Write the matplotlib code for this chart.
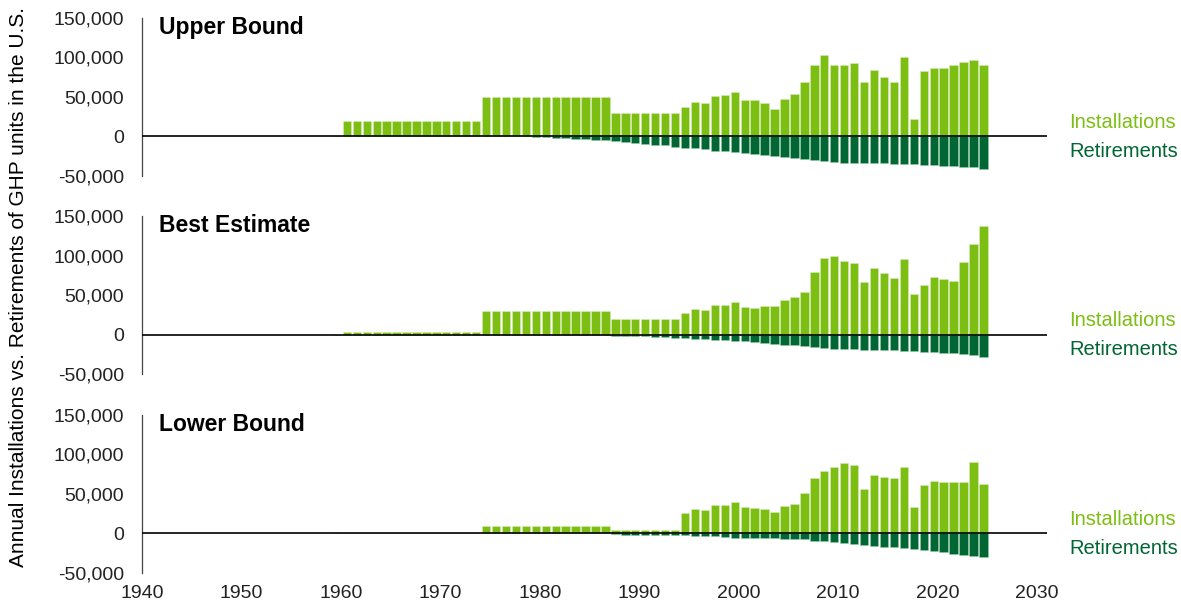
import numpy as np
import matplotlib
matplotlib.use('Agg')
import matplotlib.pyplot as plt
from matplotlib.ticker import FuncFormatter

plt.rcParams['font.family'] = ['Liberation Sans', 'DejaVu Sans']

# years shown on the chart (one bar per year)
years = list(range(1959, 2025))

panel_titles = ['Upper Bound', 'Best Estimate', 'Lower Bound']

# annual installations, 1959-2024
upper_inst = [400,
              20000, 20000, 20000, 20000, 20000, 20000, 20000, 20000, 20000, 20000,
              20000, 20000, 20000, 20000,
              50000, 50000, 50000, 50000, 50000, 50000, 50000, 50000, 50000, 50000,
              50000, 50000, 50000,
              30000, 30000, 30000, 30000, 30000, 30000, 30000,
              37000, 44000, 43000, 51000, 52500, 56000, 46000, 46000, 43000, 35000,
              47000, 54000, 69000, 91000, 103000, 91000, 91000, 93000, 69000, 84000,
              75000, 69000, 100000, 22500, 83000, 87000, 86500, 90000, 94500, 96500,
              90500]
best_inst = [0,
             3000, 3000, 3000, 3000, 3000, 3000, 3000, 3000, 3000, 3000,
             3000, 3000, 3000, 3000,
             30000, 30000, 30000, 30000, 30000, 30000, 30000, 30000, 30000, 30000,
             30000, 30000, 30000,
             20000, 20000, 20000, 20000, 20000, 20000, 20000,
             27500, 32000, 30500, 37300, 37700, 41500, 35200, 33900, 36400, 36000,
             43600, 47500, 54200, 78800, 97500, 99000, 93600, 91100, 66100, 84700,
             78400, 71600, 96200, 51700, 63100, 72900, 70800, 68200, 91500, 114400,
             137300]
lower_inst = [400,
              0, 0, 0, 0, 0, 0, 0, 0, 0, 0,
              0, 0, 0, 0,
              9000, 9000, 9000, 9000, 9000, 9000, 9000, 9000, 9000, 9000,
              9000, 9000, 9000,
              4000, 4000, 4000, 4000, 4000, 4000, 4000,
              26300, 31400, 30100, 36000, 36000, 39400, 33500, 32200, 31400, 27500,
              34300, 37700, 51300, 70300, 79700, 84300, 89400, 87300, 56400, 73700,
              71600, 70300, 84300, 33500, 61400, 66900, 65300, 65300, 65700, 90700,
              63100]

# annual retirements (plotted as negative), 1959-2024
upper_ret = [0,
             0, 0, 0, 0, 0, 0, 0, 0, 0, 0,
             0, 0, 0, 0, 0, 0, 0, 0, 0, 500,
             1200, 1700, 2500, 3000, 3800, 4200, 5000, 6000, 6800, 8000,
             9300, 10200, 11400, 12700, 14000, 15200, 16100, 17800, 18600, 19900,
             21200, 22500, 23700, 25000, 26300, 27100, 28400, 29700, 30900, 32600,
             33000, 33000, 33500, 33900, 33900, 34300, 34700, 35200, 35600, 36000,
             36900, 37300, 38100, 39000, 40700]
best_ret = [0,
            0, 0, 0, 0, 0, 0, 0, 0, 0, 0,
            0, 0, 0, 0, 0, 0, 0, 0, 0, 0,
            0, 0, 0, 0, 0, 400, 800, 1300, 1300, 2100,
            2100, 2500, 3400, 3800, 4200, 5100, 5500, 6800, 6800, 7600,
            8500, 9700, 10200, 11400, 12700, 13600, 14800, 15700, 16500, 17800,
            17800, 18600, 19100, 19100, 19500, 19900, 20300, 21200, 21600, 22500,
            22900, 23700, 25000, 26300, 28000]
lower_ret = [0,
             0, 0, 0, 0, 0, 0, 0, 0, 0, 0,
             0, 0, 0, 0, 0, 0, 0, 0, 0, 0,
             0, 0, 0, 0, 0, 0, 0, 800, 1300, 2100,
             2100, 2100, 2500, 2500, 2500, 3000, 3400, 3800, 4200, 5100,
             5500, 5900, 5900, 5900, 6400, 7200, 7600, 8900, 9700, 11000,
             12300, 13600, 14400, 15300, 16500, 17400, 18600, 19900, 21200, 22500,
             23700, 25400, 27100, 28400, 29700]

inst_series = [upper_inst, best_inst, lower_inst]
ret_series = [upper_ret, best_ret, lower_ret]

y_ticks = [-50000, 0, 50000, 100000, 150000]
x_ticks = [1940, 1950, 1960, 1970, 1980, 1990, 2000, 2010, 2020, 2030]

INST_COLOR = '#7dbe12'
RET_COLOR = '#006633'

fig = plt.figure(figsize=(11.81, 6.06), dpi=100)

# axes rectangles in figure fraction: [left, bottom, width, height]
left, width = 0.1202, 0.7664
bottoms = [0.7096, 0.3828, 0.0545]
height = 0.2607

x = np.array(years) + 0.6

for i, (title, inst, ret) in enumerate(zip(panel_titles, inst_series, ret_series)):
    ax = fig.add_axes([left, bottoms[i], width, height])
    ax.bar(x, inst, width=0.84, color=INST_COLOR,
           edgecolor=(0.85, 0.93, 0.75, 0.7), linewidth=0.5)
    ax.bar(x, -np.array(ret), width=0.84, color=RET_COLOR,
           edgecolor=(0.6, 0.8, 0.65, 0.7), linewidth=0.5)
    ax.axhline(0, color='black', linewidth=1.2, zorder=3)

    ax.set_xlim(1940, 2031)
    ax.set_ylim(-50000, 150000)
    ax.set_yticks(y_ticks)
    ax.yaxis.set_major_formatter(FuncFormatter(lambda v, p: f'{int(v):,}'))
    ax.tick_params(axis='y', length=0, pad=13, labelsize=14, colors='#222222')

    for s in ['top', 'right', 'bottom']:
        ax.spines[s].set_visible(False)
    ax.spines['left'].set_color('#444444')
    ax.spines['left'].set_linewidth(0.9)

    ax.text(1941.7, 138000, title, fontsize=16.5, fontweight='bold',
            va='center', ha='left')

    ax.text(2033.2, 18000, 'Installations', color=INST_COLOR, fontsize=14.5,
            va='center', ha='left', clip_on=False)
    ax.text(2033.2, -19000, 'Retirements', color=RET_COLOR, fontsize=14.5,
            va='center', ha='left', clip_on=False)

    if i == 2:
        ax.set_xticks(x_ticks)
        ax.tick_params(axis='x', length=0, pad=9, labelsize=14, colors='#222222')
    else:
        ax.set_xticks([])

fig.text(0.016, 0.527, 'Annual Installations vs. Retirements of GHP units in the U.S.',
         rotation=90, va='center', ha='center', fontsize=15)

fig.savefig('out.png', dpi=100)
